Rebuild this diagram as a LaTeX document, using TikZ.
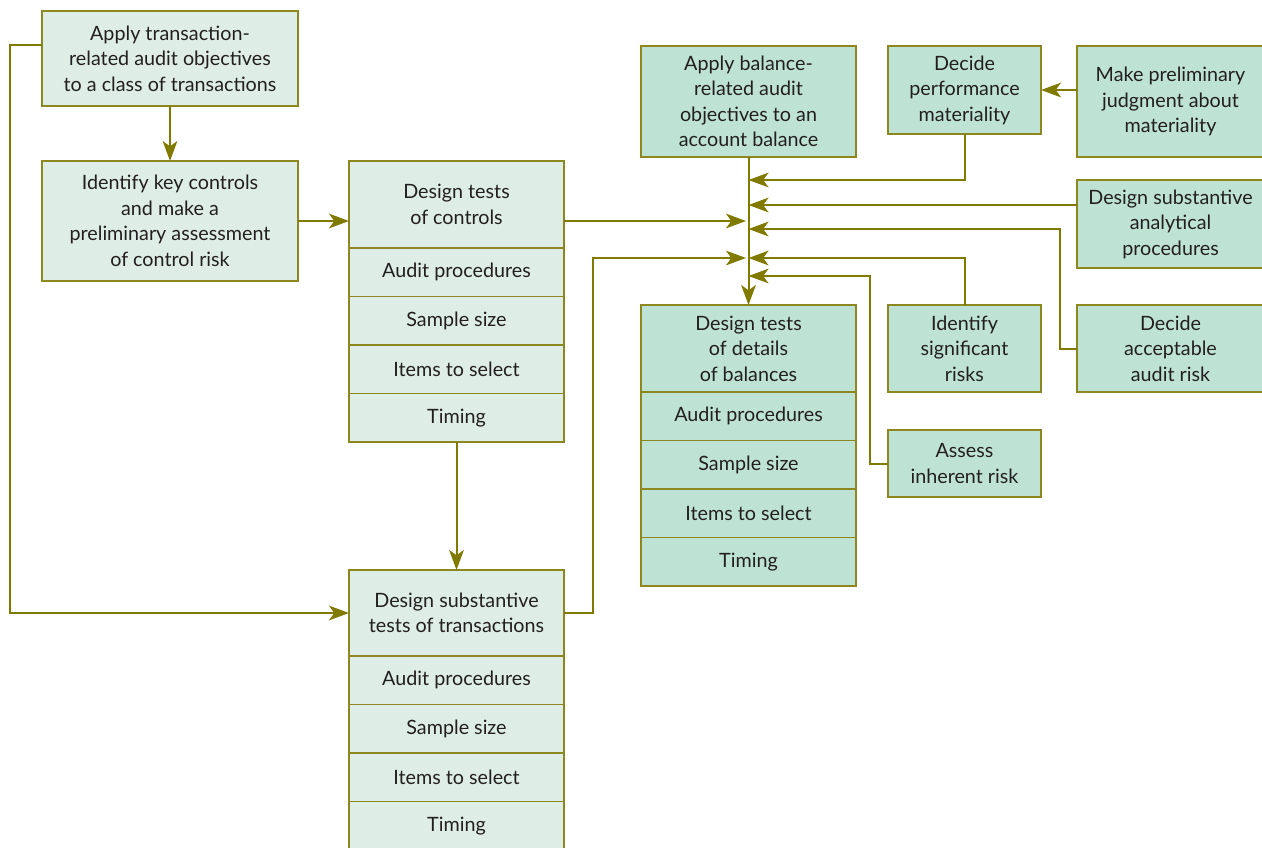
\documentclass[tikz,border=0pt]{standalone}
\usepackage{fontspec}
\setmainfont{Lato}
\usetikzlibrary{arrows.meta}
\definecolor{olv}{RGB}{128,122,0}
\definecolor{bord}{RGB}{140,135,30}
\definecolor{lightf}{RGB}{222,238,230}
\definecolor{darkf}{RGB}{190,227,213}
\definecolor{txt}{RGB}{35,31,32}
\begin{document}
\begin{tikzpicture}[x=0.75pt,y=-0.75pt,
  bx/.style n args={2}{draw=bord, line width=1.1pt, inner sep=0pt, outer sep=0pt,
    minimum width=#1*0.75pt, minimum height=#2*0.75pt, align=center, text=txt,
    font=\fontsize{14.8}{19.1}\selectfont},
  lt/.style={fill=lightf},
  dk/.style={fill=darkf},
  arr/.style={draw=olv, line width=1.5pt, -{Stealth[length=15pt,width=11pt,inset=4pt]}},
  ln/.style={draw=olv, line width=1.5pt}]
\useasboundingbox (0,0) rectangle (1262,847);
% left column
\node[bx={256}{95},lt] (A) at (170,58.5) {Apply transaction-\\related audit objectives\\to a class of transactions};
\node[bx={256}{120},lt] (B) at (170,221) {Identify key controls\\and make a\\preliminary assessment\\of control risk};
% tests of controls stack
\node[bx={215}{87},lt] (C) at (456.5,204.5) {Design tests\\of controls};
\node[bx={215}{48.5},lt] (C1) at (456.5,272.25) {Audit procedures};
\node[bx={215}{48.5},lt] (C2) at (456.5,320.75) {Sample size};
\node[bx={215}{48.5},lt] (C3) at (456.5,369.25) {Items to select};
\node[bx={215}{48.5},lt] (C4) at (456.5,417.75) {Timing};
% substantive tests of transactions stack
\node[bx={215}{86},lt] (D) at (456.5,613) {Design substantive\\tests of transactions};
\node[bx={215}{48.5},lt] (D1) at (456.5,680.25) {Audit procedures};
\node[bx={215}{48.5},lt] (D2) at (456.5,728.75) {Sample size};
\node[bx={215}{48.5},lt] (D3) at (456.5,777.25) {Items to select};
\node[bx={215}{48.5},lt] (D4) at (456.5,825.75) {Timing};
% balance side
\node[bx={215}{111},dk] (E) at (748.5,101.5) {Apply balance-\\related audit\\objectives to an\\account balance};
\node[bx={153}{88},dk] (F) at (964.5,90) {Decide\\performance\\materiality};
\node[bx={187}{111},dk] (G) at (1170.5,101.5) {Make preliminary\\judgment about\\materiality};
\node[bx={187}{88},dk] (H) at (1170.5,224) {Design substantive\\analytical\\procedures};
\node[bx={153}{87},dk] (I) at (964.5,348.5) {Identify\\significant\\risks};
\node[bx={187}{87},dk] (J) at (1170.5,348.5) {Decide\\acceptable\\audit risk};
\node[bx={153}{67},dk] (K) at (964.5,463.5) {Assess\\inherent risk};
\node[bx={215}{87},dk] (L) at (748.5,348.5) {Design tests\\of details\\of balances};
\node[bx={215}{48.5},dk] (L1) at (748.5,416.25) {Audit procedures};
\node[bx={215}{48.5},dk] (L2) at (748.5,464.75) {Sample size};
\node[bx={215}{48.5},dk] (L3) at (748.5,513.25) {Items to select};
\node[bx={215}{48.5},dk] (L4) at (748.5,561.75) {Timing};
% trunk coordinates
\coordinate (t1) at (748.5,180);
\coordinate (t2) at (748.5,205);
\coordinate (tc) at (746,221);
\coordinate (t3) at (748.5,229);
\coordinate (t4) at (748.5,258);
\coordinate (t4l) at (746,258);
\coordinate (t5) at (748.5,276);
\coordinate (ya) at (0,45);
% connectors
\draw[arr] (A.south) -- (B.north);
\draw[arr] (B.east) -- (C.west |- B.east);
\draw[arr] (C4.south) -- (D.north);
\draw[arr] (A.west |- ya) -- (10,45) |- (D.west);
\draw[arr] (C.east |- tc) -- (tc);
\draw[arr] (D.east) -- ++(29,0) |- (t4l);
\draw[arr] (E.south) -- (L.north);
\draw[arr] (G.west |- F.east) -- (F.east);
\draw[arr] (F.south) |- (t1);
\draw[arr] (H.west |- t2) -- (t2);
\draw[arr] (J.west) -- ++(-17,0) |- (t3);
\draw[arr] (I.north) |- (t4);
\draw[arr] (K.west) -- ++(-18,0) |- (t5);
\end{tikzpicture}
\end{document}
